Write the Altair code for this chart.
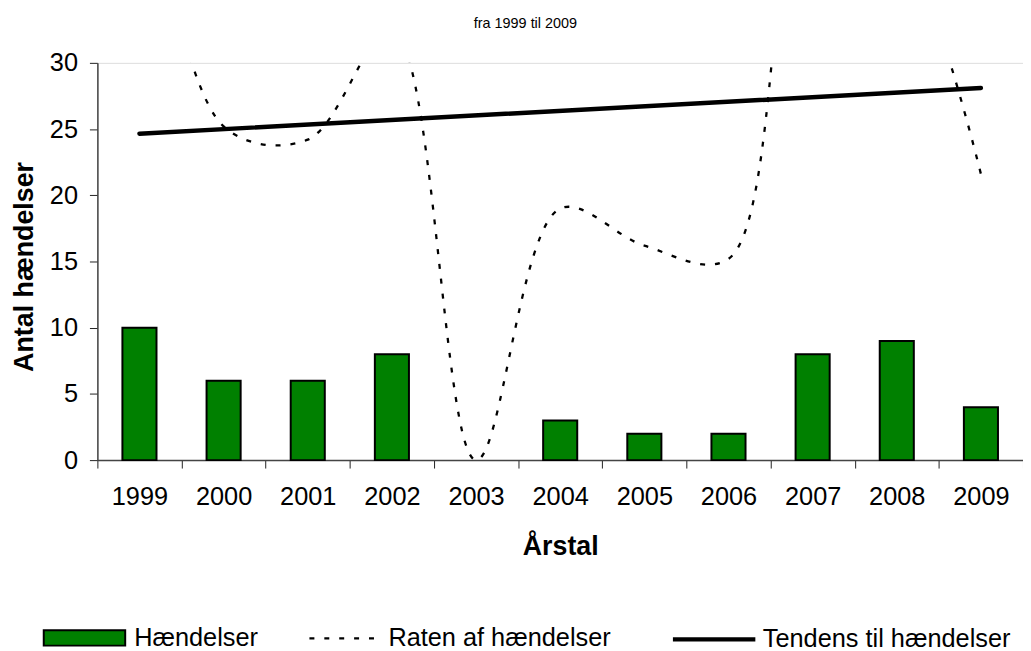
import altair as alt
import pandas as pd

# ---- data ----
aar = ["1999", "2000", "2001", "2002", "2003", "2004", "2005", "2006", "2007", "2008", "2009"]
haendelser = [10, 6, 6, 8, 0, 3, 2, 2, 8, 9, 4]
raten = [48, 25.2, 24.2, 32.5, 0, 19.0, 16.2, 15.2, 45, 40, 21.6]
tendens_aar = ["1999", "2009"]
tendens = [24.65, 28.1]

serie_navne = ["Hændelser", "Raten af hændelser", "Tendens til hændelser"]
titel = "fra 1999 til 2009"

FONT = "Liberation Sans"
LBL = 25.5
TTL = 27

bars_df = pd.DataFrame({"aar": aar, "v": haendelser, "serie": serie_navne[0]})
rate_df = pd.DataFrame({"aar": aar, "v": raten, "serie": serie_navne[1]})
trend_df = pd.DataFrame({"aar": tendens_aar, "v": tendens, "serie": serie_navne[2]})

x_scale = alt.Scale(type="band", domain=aar, paddingInner=0, paddingOuter=0)
y_scale = alt.Scale(domain=[0, 30], nice=False, zero=True)

x_axis = alt.Axis(
    title="Årstal", labelAngle=0, tickBand="extent", tickSize=8,
    labelFont=FONT, labelFontSize=LBL, labelColor="black", labelPadding=17,
    titleFont=FONT, titleFontSize=TTL, titleFontWeight="bold", titleColor="black",
    titleBaseline="alphabetic", titleY=95,
    domainColor="#444", domainWidth=1.5, tickColor="#222", tickWidth=1, grid=False,
)
# top axis only carries the small chart heading
top_axis = alt.Axis(
    orient="top", title=titel, labels=False, ticks=False, domain=False, grid=False,
    titleFont=FONT, titleFontSize=14.5, titleFontWeight="normal", titleColor="black",
    titleBaseline="alphabetic", titleAlign="center", titleX=430.5, titleY=-35.6,
)
y_axis = alt.Axis(
    title="Antal hændelser", values=[0, 5, 10, 15, 20, 25, 30], tickSize=8,
    labelFont=FONT, labelFontSize=LBL, labelColor="black", labelPadding=12,
    titleFont=FONT, titleFontSize=TTL, titleFontWeight="bold", titleColor="black",
    titleAngle=270, titleBaseline="alphabetic", titleX=-65, titleY=205, titleAlign="center",
    domainColor="#444", domainWidth=1.5, tickColor="#222", tickWidth=1, grid=False,
)

leg_common = dict(title=None, orient="none", padding=0, labelFont=FONT,
                  labelFontSize=LBL, labelColor="black", labelLimit=600)

bars = alt.Chart(bars_df).mark_bar(
    stroke="black", width=alt.RelativeBandSize(0.405)
).encode(
    x=alt.X("aar:N", scale=x_scale, axis=x_axis),
    y=alt.Y("v:Q", scale=y_scale, axis=y_axis),
    strokeWidth=alt.condition("datum.v > 0", alt.value(2), alt.value(0)),
    fill=alt.Fill("serie:N", scale=alt.Scale(domain=[serie_navne[0]], range=["#008000"]),
                  legend=alt.Legend(legendX=-55, legendY=537,
                                    symbolType="M-1,-0.19L1,-0.19L1,0.19L-1,0.19Z",
                                    symbolSize=6724, symbolStrokeColor="black",
                                    symbolStrokeWidth=2, labelOffset=8, **leg_common)),
)

rate = alt.Chart(rate_df).mark_line(
    color="black", strokeWidth=2.3, interpolate="catmull-rom", clip=True
).encode(
    x=alt.X("aar:N", scale=x_scale, axis=None, bandPosition=0.5),
    y=alt.Y("v:Q", scale=y_scale, axis=y_axis),
    strokeDash=alt.StrokeDash("serie:N", scale=alt.Scale(domain=[serie_navne[1]], range=[[5, 10]]),
                              legend=alt.Legend(legendX=212, legendY=540.5, symbolType="stroke",
                                                symbolSize=5625, symbolStrokeColor="black",
                                                symbolStrokeWidth=2.3, labelOffset=3, **leg_common)),
)

trend = alt.Chart(trend_df).mark_line(
    strokeWidth=4.5, strokeCap="round", clip=True
).encode(
    x=alt.X("aar:N", scale=x_scale, axis=top_axis, bandPosition=0.5),
    y=alt.Y("v:Q", scale=y_scale, axis=y_axis),
    stroke=alt.Stroke("serie:N", scale=alt.Scale(domain=[serie_navne[2]], range=["black"]),
                      legend=alt.Legend(legendX=577, legendY=536.5, symbolType="stroke",
                                        symbolSize=6889, symbolStrokeWidth=4.5,
                                        labelOffset=5, **leg_common)),
)

chart = alt.layer(bars, rate, trend).resolve_scale(
    fill="independent", stroke="independent", strokeDash="independent"
).resolve_axis(
    x="independent"
).properties(
    width=932, height=400,
    autosize=alt.AutoSizeParams(type="none"),
    padding={"left": 90, "top": 53, "right": 0, "bottom": 196},
).configure_view(
    stroke="#808080", strokeWidth=1.5
).configure(background="white")

chart.save("out.html", embed_options={"renderer": "svg", "actions": False})
